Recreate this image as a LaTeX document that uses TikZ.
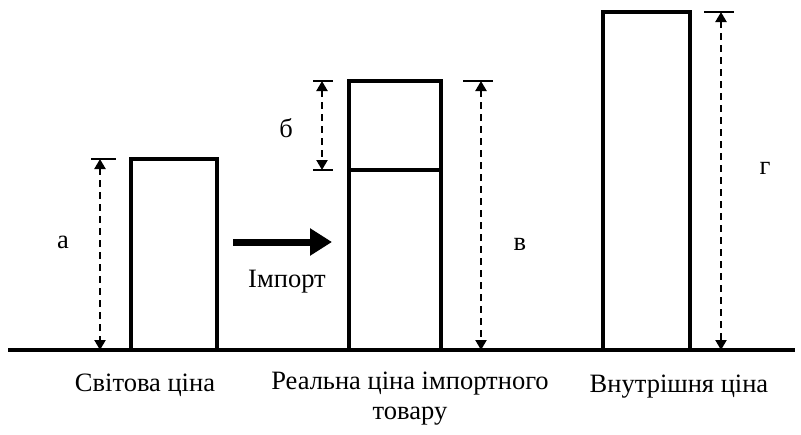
\documentclass[tikz,border=0pt]{standalone}
\usepackage{fontspec}
\setmainfont{Liberation Serif}
\usetikzlibrary{arrows.meta}

\tikzset{
  bar/.style={draw, line width=3.2pt},
  dim/.style={line width=2.2pt, dash pattern=on 7pt off 5pt,
    {Triangle[length=10pt,width=11pt]}-{Triangle[length=10pt,width=11pt]}},
  tick/.style={line width=2pt},
  lbl/.style={font=\fontsize{26.5}{30}\selectfont, inner sep=0pt},
}

\begin{document}
\begin{tikzpicture}[x=1pt,y=-1pt]
            \useasboundingbox (0,0) rectangle (801,434);
            % ground line
            \draw[line width=3.8pt] (8,350) -- (795,350);
            % bars
            \draw[bar] (131,350) rectangle (217,159);
            \draw[bar] (349,350) rectangle (441,81);
            \draw[bar] (349,170) -- (441,170);
            \draw[bar] (603,350) rectangle (690,12);
            % dimension ends
            \coordinate (at) at (100,159);  \coordinate (ab) at (100,350);
            \coordinate (bt) at (322,81);   \coordinate (bb) at (322,170);
            \coordinate (vt) at (481,81);   \coordinate (vb) at (481,350);
            \coordinate (gt) at (721,12);   \coordinate (gb) at (721,350);
            \draw[tick] (91,159) -- (116,159);
            \draw[tick] (313,81) -- (333,81);
            \draw[tick] (313,170) -- (333,170);
            \draw[tick] (463,81) -- (493,81);
            \draw[tick] (704,12) -- (734,12);
            \draw[dim] (at) -- (ab);
            \draw[dim] (bt) -- (bb);
            \draw[dim] (vt) -- (vb);
            \draw[dim] (gt) -- (gb);
            \node[lbl] (a) at (63,242)  {а};
            \node[lbl] (b) at (286,128) {б};
            \node[lbl] (v) at (520,244) {в};
            \node[lbl] (g) at (765,168) {г};
            % import arrow
            \coordinate (imp1) at (233,242);
            \coordinate (imp2) at (332,242);
            \draw[line width=7pt, -{Triangle[length=22pt,width=26pt]}] (imp1) -- (imp2);
            \node[lbl] (imp) at (287,282) {Імпорт};
            % captions
            \node[lbl] (c1) at (145,385) {Світова ціна};
            \node[lbl, align=center] (c2) at (410,399) {Реальна ціна імпортного\\товару};
            \node[lbl] (c3) at (679,387) {Внутрішня ціна};
        \end{tikzpicture}
\end{document}
